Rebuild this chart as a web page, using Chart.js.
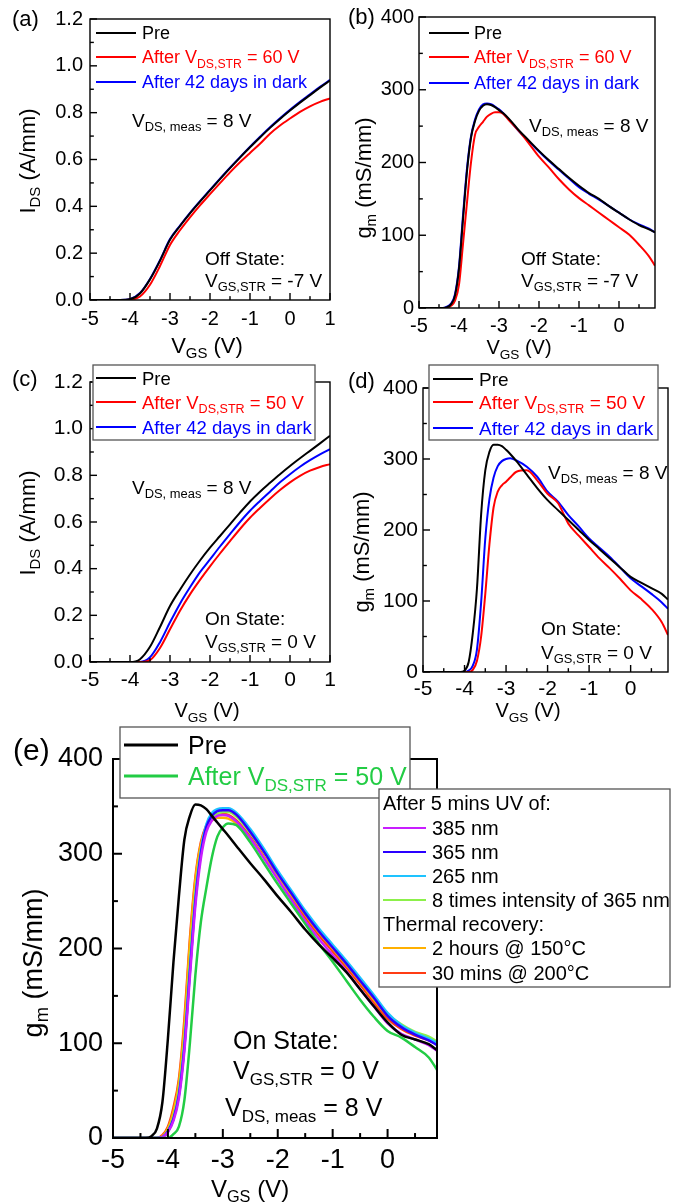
<!DOCTYPE html>
<html lang="en">
<head>
<meta charset="UTF-8">
<title>IDS and gm after stress</title>
<script src="https://cdn.jsdelivr.net/npm/chart.js@4.4.1/dist/chart.umd.min.js"></script>
<style>
  body { margin: 0; background: #fff; }
  #wrap { position: relative; width: 676px; height: 1203px; overflow: hidden; }
  #wrap canvas { position: absolute; left: 0; top: 0; }
</style>
</head>
<body>
<div id="wrap">
  <canvas id="pa" width="676" height="1203"></canvas>
  <canvas id="pb" width="676" height="1203"></canvas>
  <canvas id="pc" width="676" height="1203"></canvas>
  <canvas id="pd" width="676" height="1203"></canvas>
  <canvas id="pe" width="676" height="1203"></canvas>
</div>
<script>
const FONT = 'Arial, "Liberation Sans", sans-serif';

// tick values
const xTicksFull = [-5, -4, -3, -2, -1, 0, 1];
const xTicksCut = [-5, -4, -3, -2, -1, 0];
const yTicksI = [0, 0.2, 0.4, 0.6, 0.8, 1.0, 1.2];
const yTicksG = [0, 100, 200, 300, 400];

// VGS grid for IDS panels (V)
const vgsI = [-5, -4.5, -4.25, -4, -3.75, -3.5, -3.25, -3, -2.75, -2.5, -2.25, -2, -1.75, -1.5, -1.25, -1, -0.75, -0.5, -0.25, 0, 0.25, 0.5, 0.75, 1];
// VGS grid for gm panels (V)
const vgsG = [-5, -4.5, -4.4, -4.3, -4.2, -4.1, -4, -3.9, -3.8, -3.7, -3.6, -3.5, -3.4, -3.3, -3.2, -3.1, -3, -2.9, -2.75, -2.5, -2.25, -2, -1.75, -1.5, -1.25, -1, -0.75, -0.5, -0.25, 0, 0.25, 0.5, 0.75, 0.9];

// (a) off state, IDS (A/mm)
const aPre    = [0, 0, 0, 0.003, 0.028, 0.088, 0.168, 0.257, 0.316, 0.37, 0.42, 0.468, 0.516, 0.563, 0.608, 0.652, 0.694, 0.735, 0.773, 0.809, 0.843, 0.875, 0.907, 0.937];
const aStress = [0, 0, 0, 0.001, 0.015, 0.065, 0.145, 0.235, 0.298, 0.353, 0.404, 0.452, 0.499, 0.545, 0.588, 0.628, 0.667, 0.71, 0.745, 0.775, 0.803, 0.827, 0.846, 0.861];
const aDark   = [0, 0, 0, 0.004, 0.03, 0.09, 0.17, 0.26, 0.318, 0.372, 0.422, 0.47, 0.518, 0.565, 0.61, 0.655, 0.697, 0.738, 0.776, 0.812, 0.846, 0.878, 0.91, 0.94];

// (b) off state, gm (mS/mm)
const bPre    = [0, 0, 0, 1, 5, 17, 54, 122, 188, 234, 257, 271, 278, 280, 279, 276, 272, 268, 260, 244, 230, 216, 203, 191, 179, 168, 158, 150, 140, 131, 122, 114, 108, 104];
const bStress = [0, 0, 0, 0, 3, 10, 32, 88, 145, 200, 238, 249, 256, 263, 267, 269, 269, 267, 258, 243, 226, 208, 193, 177, 163, 151, 141, 131, 121, 111, 101, 87, 71, 58];
const bDark   = [0, 0, 0, 2, 6, 19, 57, 127, 192, 236, 259, 273, 280, 281, 280, 277, 273, 268, 259, 243, 229, 215, 202, 190, 178, 166, 157, 149, 140, 131, 122, 115, 109, 104];

// (c) on state, IDS (A/mm)
const cPre    = [0, 0, 0, 0, 0.012, 0.065, 0.15, 0.24, 0.31, 0.375, 0.435, 0.49, 0.54, 0.59, 0.64, 0.688, 0.73, 0.768, 0.805, 0.84, 0.873, 0.905, 0.937, 0.97];
const cStress = [0, 0, 0, 0, 0, 0.008, 0.06, 0.14, 0.22, 0.29, 0.352, 0.41, 0.465, 0.518, 0.57, 0.618, 0.66, 0.70, 0.737, 0.77, 0.798, 0.82, 0.836, 0.848];
const cDark   = [0, 0, 0, 0, 0, 0.02, 0.085, 0.17, 0.25, 0.32, 0.385, 0.44, 0.495, 0.548, 0.6, 0.648, 0.69, 0.73, 0.77, 0.805, 0.837, 0.865, 0.89, 0.912];

// (d) on state, gm (mS/mm)
const dPre    = [0, 0, 0, 0, 0, 0, 2, 14, 55, 118, 222, 284, 310, 320, 320, 318, 313, 307, 297, 278, 259, 242, 228, 214, 200, 186, 173, 160, 147, 134, 126, 118, 110, 102];
const dStress = [0, 0, 0, 0, 0, 0, 0, 0, 3, 16, 50, 110, 180, 232, 254, 263, 268, 274, 282, 284, 270, 251, 238, 209, 192, 176, 160, 146, 131, 115, 103, 89, 70, 52];
const dDark   = [0, 0, 0, 0, 0, 0, 0, 2, 9, 32, 98, 188, 244, 274, 290, 297, 300, 301, 298, 289, 275, 254, 240, 221, 205, 188, 175, 162, 147, 132, 121, 110, 98, 89];

// (e) on state, gm (mS/mm) with UV and thermal recovery
const ePre    = [0, 0, 0, 2, 10, 38, 105, 185, 255, 315, 340, 352, 351, 347, 340, 333, 326, 319, 308, 290, 273, 255, 238, 220, 204, 190, 175, 157, 139, 122, 109, 104, 99, 93];
const eStress = [0, 0, 0, 0, 0, 0, 0, 4, 12, 40, 100, 172, 228, 264, 296, 318, 328, 332, 330, 312, 290, 268, 247, 226, 205, 186, 166, 146, 128, 113, 106, 96, 85, 72];
const e385    = [0, 0, 0, 0, 0, 1, 6, 18, 42, 92, 170, 245, 295, 323, 335, 340, 341, 340, 334, 316, 295, 273, 251, 229, 210, 193, 176, 157, 139, 121, 110, 104, 98, 92];
const e365    = [0, 0, 0, 0, 0, 1, 7, 20, 45, 96, 175, 250, 300, 328, 340, 345, 346, 346, 341, 323, 302, 279, 258, 237, 218, 201, 184, 166, 148, 129, 117, 109, 103, 98];
const e265    = [0, 0, 0, 0, 0, 1, 7, 20, 46, 98, 178, 253, 303, 331, 343, 347, 348, 348, 343, 326, 305, 282, 261, 240, 221, 204, 187, 169, 151, 132, 119, 111, 105, 100];
const e8x     = [0, 0, 0, 0, 0, 1, 8, 22, 50, 104, 185, 258, 303, 328, 338, 342, 344, 344, 339, 322, 302, 280, 259, 238, 219, 202, 186, 168, 150, 131, 120, 112, 107, 102];
const e2h     = [0, 0, 0, 0, 0, 2, 10, 28, 58, 118, 205, 272, 310, 328, 335, 338, 338, 337, 332, 316, 296, 276, 256, 236, 217, 200, 183, 165, 146, 129, 118, 110, 105, 101];
const e30     = [0, 0, 0, 0, 0, 3, 12, 32, 62, 125, 210, 275, 312, 330, 338, 341, 342, 341, 335, 318, 297, 275, 254, 233, 214, 197, 180, 162, 143, 126, 115, 108, 103, 99];

// --- text with _{subscript} parts ---
function richParts(str) {
  const parts = [];
  const re = /_\{([^}]*)\}/g;
  let last = 0, m;
  while ((m = re.exec(str))) {
    if (m.index > last) parts.push({ t: str.slice(last, m.index), sub: false });
    parts.push({ t: m[1], sub: true });
    last = re.lastIndex;
  }
  if (last < str.length) parts.push({ t: str.slice(last), sub: false });
  return parts;
}

function richText(ctx, str, x, y, size, color, align) {
  const parts = richParts(str);
  const subSize = size * 0.68;
  let w = 0;
  parts.forEach(p => {
    ctx.font = (p.sub ? subSize : size) + 'px ' + FONT;
    p.w = ctx.measureText(p.t).width;
    w += p.w;
  });
  let cx = align === 'center' ? x - w / 2 : x;
  const base = y + size * 0.36;
  ctx.fillStyle = color;
  ctx.textAlign = 'left';
  ctx.textBaseline = 'alphabetic';
  parts.forEach(p => {
    ctx.font = (p.sub ? subSize : size) + 'px ' + FONT;
    ctx.fillText(p.t, cx, p.sub ? base + size * 0.24 : base);
    cx += p.w;
  });
}

// frame, inward ticks, legends and notes
function decor(cfg) {
  return {
    id: 'decor',
    afterDraw(chart) {
      const ctx = chart.ctx, a = chart.chartArea;
      const xs = chart.scales.x, ys = chart.scales.y;
      ctx.save();
      ctx.strokeStyle = '#000';
      ctx.lineWidth = cfg.frameW;
      ctx.strokeRect(a.left, a.top, a.right - a.left, a.bottom - a.top);

      // inward tick marks as thin filled bars
      ctx.fillStyle = '#000';
      const tw = cfg.frameW;
      const xStep = cfg.xTicks[1] - cfg.xTicks[0];
      cfg.xTicks.forEach(v => {
        const p = xs.getPixelForValue(v);
        ctx.fillRect(p - tw / 2, a.bottom - cfg.tickLen, tw, cfg.tickLen);
        if (v + xStep / 2 < cfg.x[1]) {
          const q = xs.getPixelForValue(v + xStep / 2);
          const l = cfg.tickLen * 0.55;
          ctx.fillRect(q - tw / 2, a.bottom - l, tw, l);
        }
      });
      const yStep = cfg.yTicks[1] - cfg.yTicks[0];
      cfg.yTicks.forEach(v => {
        const p = ys.getPixelForValue(v);
        ctx.fillRect(a.left, p - tw / 2, cfg.tickLen, tw);
        if (v + yStep / 2 < cfg.y[1]) {
          const q = ys.getPixelForValue(v + yStep / 2);
          ctx.fillRect(a.left, q - tw / 2, cfg.tickLen * 0.55, tw);
        }
      });

      const seg = (x1, y1, x2, y2) => { ctx.beginPath(); ctx.moveTo(x1, y1); ctx.lineTo(x2, y2); ctx.stroke(); };
      cfg.legends.forEach(lg => {
        if (lg.box) {
          const [x1, y1, x2, y2] = lg.box;
          ctx.fillStyle = '#fff';
          ctx.fillRect(x1, y1, x2 - x1, y2 - y1);
          ctx.strokeStyle = '#555';
          ctx.lineWidth = 1.3;
          ctx.strokeRect(x1, y1, x2 - x1, y2 - y1);
        }
        lg.rows.forEach(r => {
          if (r.head) {
            richText(ctx, r.head, lg.x0, r.y, lg.size, '#000', 'left');
            return;
          }
          const ds = chart.data.datasets[r.ds];
          ctx.strokeStyle = ds.borderColor;
          ctx.lineWidth = lg.lw;
          seg(lg.x0, r.y, lg.x1, r.y);
          richText(ctx, ds.label, lg.tx, r.y, lg.size, lg.colorText ? ds.borderColor : '#000', 'left');
        });
      });

      cfg.texts.forEach(t => richText(ctx, t.t, t.x, t.y, t.size, '#000', t.align || 'left'));

      richText(ctx, cfg.xTitle.t, cfg.xTitle.x, cfg.xTitle.y, cfg.xTitle.size, '#000', 'center');
      ctx.translate(cfg.yTitle.x, cfg.yTitle.y);
      ctx.rotate(-Math.PI / 2);
      richText(ctx, cfg.yTitle.t, 0, 0, cfg.yTitle.size, '#000', 'center');
      ctx.restore();
    }
  };
}

function makePanel(id, cfg) {
  const W = 676, H = 1203, YW = 60, XH = 40;
  return new Chart(document.getElementById(id), {
    type: 'line',
    data: {
      datasets: cfg.series.map(s => ({
        label: s.label,
        data: cfg.grid.map((x, i) => ({ x: x, y: s.values[i] })),
        borderColor: s.color,
        borderWidth: cfg.lw,
        pointRadius: 0,
        fill: false,
        tension: 0.4,
        cubicInterpolationMode: 'monotone'
      }))
    },
    options: {
      responsive: false,
      animation: false,
      devicePixelRatio: 1,
      layout: { padding: { left: cfg.area[0] - YW, top: cfg.area[1], right: W - cfg.area[2], bottom: H - cfg.area[3] - XH } },
      plugins: { legend: { display: false }, tooltip: { enabled: false } },
      scales: {
        x: {
          type: 'linear', min: cfg.x[0], max: cfg.x[1],
          afterFit: s => { s.height = XH; },
          afterBuildTicks: s => { s.ticks = cfg.xTicks.map(v => ({ value: v })); },
          grid: { display: false, drawTicks: false },
          border: { display: false },
          ticks: { color: '#000', font: { family: FONT, size: cfg.tickSize }, padding: cfg.xPad, autoSkip: false, maxRotation: 0, callback: v => String(v) }
        },
        y: {
          type: 'linear', min: cfg.y[0], max: cfg.y[1],
          afterFit: s => { s.width = YW; },
          afterBuildTicks: s => { s.ticks = cfg.yTicks.map(v => ({ value: v })); },
          grid: { display: false, drawTicks: false },
          border: { display: false },
          ticks: { color: '#000', font: { family: FONT, size: cfg.tickSize }, padding: cfg.yPad, autoSkip: false, callback: cfg.yFmt }
        }
      }
    },
    plugins: [decor(cfg)]
  });
}

const fmtI = v => v.toFixed(1);
const fmtG = v => String(v);

makePanel('pa', {
  area: [90, 16, 330, 300], x: [-5, 1], y: [0, 1.2], xTicks: xTicksFull, yTicks: yTicksI, yFmt: fmtI,
  grid: vgsI, lw: 2, frameW: 1.4, tickLen: 7, tickSize: 20, xPad: 7, yPad: 7,
  series: [
    { label: 'Pre', values: aPre, color: '#000000' },
    { label: 'After V_{DS,STR} = 60 V', values: aStress, color: '#ff0000' },
    { label: 'After 42 days in dark', values: aDark, color: '#0000ff' }
  ],
  legends: [{ box: null, x0: 96, x1: 136, tx: 142, size: 18, lw: 2, colorText: true,
    rows: [{ y: 33, ds: 0 }, { y: 57, ds: 1 }, { y: 82, ds: 2 }] }],
  texts: [
    { t: '(a)', x: 12, y: 18, size: 22 },
    { t: 'V_{DS, meas} = 8 V', x: 132, y: 120, size: 19 },
    { t: 'Off State:', x: 205, y: 258, size: 19 },
    { t: 'V_{GS,STR} = -7 V', x: 205, y: 280, size: 19 }
  ],
  xTitle: { t: 'V_{GS} (V)', x: 207, y: 345, size: 22 },
  yTitle: { t: 'I_{DS} (A/mm)', x: 27, y: 161, size: 22 }
});

makePanel('pb', {
  area: [419, 16, 655, 308], x: [-5, 0.9], y: [0, 400], xTicks: xTicksCut, yTicks: yTicksG, yFmt: fmtG,
  grid: vgsG, lw: 2, frameW: 1.4, tickLen: 7, tickSize: 20, xPad: 6, yPad: 5,
  series: [
    { label: 'Pre', values: bPre, color: '#000000' },
    { label: 'After V_{DS,STR} = 60 V', values: bStress, color: '#ff0000' },
    { label: 'After 42 days in dark', values: bDark, color: '#0000ff' }
  ],
  legends: [{ box: null, x0: 429, x1: 469, tx: 474, size: 18, lw: 2, colorText: true,
    rows: [{ y: 33, ds: 0 }, { y: 57, ds: 1 }, { y: 83, ds: 2 }] }],
  texts: [
    { t: '(b)', x: 348, y: 16, size: 22 },
    { t: 'V_{DS, meas} = 8 V', x: 529, y: 125, size: 19 },
    { t: 'Off State:', x: 521, y: 258, size: 19 },
    { t: 'V_{GS,STR} = -7 V', x: 521, y: 280, size: 19 }
  ],
  xTitle: { t: 'V_{GS} (V)', x: 519, y: 347, size: 20 },
  yTitle: { t: 'g_{m} (mS/mm)', x: 363, y: 178, size: 22 }
});

makePanel('pc', {
  area: [90, 382, 330, 662], x: [-5, 1], y: [0, 1.2], xTicks: xTicksFull, yTicks: yTicksI, yFmt: fmtI,
  grid: vgsI, lw: 2, frameW: 1.4, tickLen: 7, tickSize: 21, xPad: 6, yPad: 7,
  series: [
    { label: 'Pre', values: cPre, color: '#000000' },
    { label: 'After V_{DS,STR} = 50 V', values: cStress, color: '#ff0000' },
    { label: 'After 42 days in dark', values: cDark, color: '#0000ff' }
  ],
  legends: [{ box: [93, 365, 315, 440], x0: 96, x1: 136, tx: 142, size: 18.5, lw: 2, colorText: true,
    rows: [{ y: 378, ds: 0 }, { y: 402, ds: 1 }, { y: 427, ds: 2 }] }],
  texts: [
    { t: '(c)', x: 12, y: 378, size: 22 },
    { t: 'V_{DS, meas} = 8 V', x: 132, y: 487, size: 19 },
    { t: 'On State:', x: 205, y: 618, size: 19 },
    { t: 'V_{GS,STR} = 0 V', x: 205, y: 641, size: 19 }
  ],
  xTitle: { t: 'V_{GS} (V)', x: 207, y: 710, size: 20 },
  yTitle: { t: 'I_{DS} (A/mm)', x: 27, y: 523, size: 22 }
});

makePanel('pd', {
  area: [423, 388, 668, 672], x: [-5, 0.9], y: [0, 400], xTicks: xTicksCut, yTicks: yTicksG, yFmt: fmtG,
  grid: vgsG, lw: 2, frameW: 1.4, tickLen: 7, tickSize: 21, xPad: 5, yPad: 5,
  series: [
    { label: 'Pre', values: dPre, color: '#000000' },
    { label: 'After V_{DS,STR} = 50 V', values: dStress, color: '#ff0000' },
    { label: 'After 42 days in dark', values: dDark, color: '#0000ff' }
  ],
  legends: [{ box: [429, 365, 658, 440], x0: 433, x1: 473, tx: 479, size: 19, lw: 2, colorText: true,
    rows: [{ y: 379, ds: 0 }, { y: 402, ds: 1 }, { y: 428, ds: 2 }] }],
  texts: [
    { t: '(d)', x: 348, y: 380, size: 22 },
    { t: 'V_{DS, meas} = 8 V', x: 548, y: 472, size: 19 },
    { t: 'On State:', x: 541, y: 628, size: 19 },
    { t: 'V_{GS,STR} = 0 V', x: 541, y: 652, size: 19 }
  ],
  xTitle: { t: 'V_{GS} (V)', x: 528, y: 710, size: 20 },
  yTitle: { t: 'g_{m} (mS/mm)', x: 361, y: 552, size: 22 }
});

makePanel('pe', {
  area: [113, 759, 437, 1138], x: [-5, 0.9], y: [0, 400], xTicks: xTicksCut, yTicks: yTicksG, yFmt: fmtG,
  grid: vgsG, lw: 2.5, frameW: 2, tickLen: 9, tickSize: 27, xPad: 6, yPad: 10,
  series: [
    { label: 'Pre', values: ePre, color: '#000000' },
    { label: 'After V_{DS,STR} = 50 V', values: eStress, color: '#22cc44' },
    { label: '385 nm', values: e385, color: '#c81eff' },
    { label: '365 nm', values: e365, color: '#2a00ff' },
    { label: '265 nm', values: e265, color: '#1ec3ff' },
    { label: '8 times intensity of 365 nm', values: e8x, color: '#8cf04a' },
    { label: '2 hours @ 150°C', values: e2h, color: '#ffb000' },
    { label: '30 mins @ 200°C', values: e30, color: '#ff3c14' }
  ],
  legends: [
    { box: [120, 727, 410, 798], x0: 124, x1: 178, tx: 188, size: 25, lw: 3, colorText: true,
      rows: [{ y: 745, ds: 0 }, { y: 776, ds: 1 }] },
    { box: [379, 789, 670, 987], x0: 383, x1: 426, tx: 432, size: 20, lw: 2, colorText: false,
      rows: [
        { y: 803, head: 'After 5 mins UV of:' },
        { y: 828, ds: 2 }, { y: 852, ds: 3 }, { y: 876, ds: 4 }, { y: 900, ds: 5 },
        { y: 924, head: 'Thermal recovery:' },
        { y: 948, ds: 6 }, { y: 973, ds: 7 }
      ] }
  ],
  texts: [
    { t: '(e)', x: 13, y: 749, size: 30 },
    { t: 'On State:', x: 233, y: 1040, size: 25 },
    { t: 'V_{GS,STR} = 0 V', x: 233, y: 1070, size: 25 },
    { t: 'V_{DS, meas} = 8 V', x: 225, y: 1107, size: 25 }
  ],
  xTitle: { t: 'V_{GS} (V)', x: 250, y: 1188, size: 24 },
  yTitle: { t: 'g_{m} (mS/mm)', x: 32, y: 963, size: 27 }
});
</script>
</body>
</html>
